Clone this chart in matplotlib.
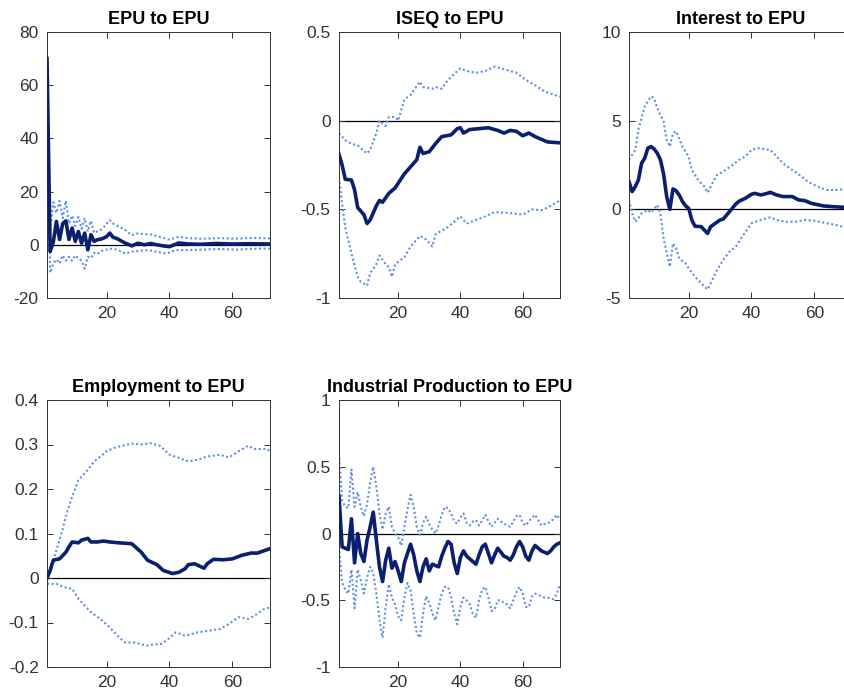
import numpy as np
import matplotlib.pyplot as plt
from matplotlib.ticker import FormatStrFormatter

plt.rcParams['font.family'] = ['Liberation Sans', 'DejaVu Sans']
plt.rcParams['axes.unicode_minus'] = False

# impulse responses to an EPU shock: median and error bands
titles = ["EPU to EPU", "ISEQ to EPU", "Interest to EPU",
          "Employment to EPU", "Industrial Production to EPU"]

# EPU to EPU
h_epu_mid = [1, 2, 3, 4, 5, 6, 7, 8, 9, 10, 11, 12, 13, 14, 15, 16, 17, 18, 19, 20, 21, 22, 23, 24,
             25, 26, 27, 28, 30, 32, 34, 36, 38, 40, 43, 46, 50, 55, 60, 65, 72]
epu_mid = [70, -2.5, 1, 8.8, 2, 8, 9, 2, 6.3, 1.3, 5, 0.6, 4.4, -1.9, 3.8, 1.3, 1.9, 2.1, 2.5, 3.1,
           4.4, 2.8, 2.5, 1.9, 1.2, 0.6, 0.1, -0.4, 0.6, 0, 0.5, 0, -0.4, -0.7, 0.7, 0.3, 0.2, 0.5,
           0.3, 0.4, 0.3]
h_epu_up = [1, 2, 3, 4, 5, 6, 7, 8, 9, 10, 11, 12, 13, 14, 15, 16, 17, 18, 19, 20, 21, 22, 23, 24,
            26, 28, 30, 32, 34, 36, 38, 40, 43, 46, 50, 56, 62, 66, 72]
epu_up = [70, 5, 16, 12, 16.5, 10, 16.5, 8, 11, 7, 10.5, 6, 10, 5, 9, 4.5, 5, 5.5, 6.5, 8, 9.3, 8,
          7.4, 6.8, 5.5, 3.6, 4.3, 4, 3.9, 3.2, 2.6, 2, 3, 2.5, 2.3, 2.5, 2.3, 2.6, 2.4]
h_epu_lo = [1, 2, 3, 4, 5, 6, 7, 8, 9, 10, 11, 12, 13, 14, 15, 16, 17, 18, 19, 20, 22, 24, 26, 28,
            30, 32, 34, 36, 39, 42, 45, 50, 56, 62, 66, 72]
epu_lo = [68, -10.5, -7, -5.5, -7, -4, -6, -4.5, -6, -4, -5, -6, -9, -4.5, -5, -3, -3.5, -2.5, -2,
          -1.8, -1.4, -2.2, -3.3, -2.6, -2.3, -2, -2.2, -2.6, -3.3, -2, -2, -1.8, -1.6, -1.8, -1.5,
          -1.4]

# ISEQ to EPU
h_iseq_mid = [1, 2, 3, 5, 6, 7, 9, 10, 11, 13, 14, 15, 17, 19, 22, 24, 26, 27, 28, 30, 32, 34, 37,
              39, 40, 41, 43, 46, 49, 52, 54, 56, 58, 60, 62, 64, 68, 72]
iseq_mid = [-0.19, -0.25, -0.33, -0.335, -0.39, -0.49, -0.53, -0.58, -0.56, -0.48, -0.45, -0.46,
            -0.41, -0.38, -0.30, -0.26, -0.22, -0.15, -0.185, -0.175, -0.13, -0.09, -0.08, -0.045,
            -0.04, -0.07, -0.05, -0.045, -0.04, -0.055, -0.07, -0.055, -0.06, -0.085, -0.07, -0.09,
            -0.12, -0.125]
h_iseq_up = [1, 3, 5, 7, 10, 11, 13, 14, 16, 17, 19, 20, 22, 24, 27, 28, 31, 32, 34, 36, 40, 42, 45,
             48, 51, 55, 58, 61, 64, 67, 72]
iseq_up = [-0.07, -0.11, -0.13, -0.14, -0.185, -0.165, -0.07, 0, -0.03, 0.02, 0.02, 0, 0.12, 0.145,
           0.22, 0.19, 0.18, 0.19, 0.18, 0.23, 0.295, 0.28, 0.27, 0.28, 0.305, 0.285, 0.27, 0.23,
           0.2, 0.165, 0.135]
h_iseq_lo = [1, 2, 3, 5, 7, 8, 10, 11, 13, 14, 16, 17, 18, 19, 22, 24, 27, 29, 31, 32, 34, 36, 40,
             42, 45, 48, 51, 55, 58, 60, 63, 66, 68, 72]
iseq_lo = [-0.32, -0.47, -0.6, -0.75, -0.88, -0.91, -0.93, -0.86, -0.81, -0.76, -0.81, -0.825,
           -0.88, -0.81, -0.77, -0.71, -0.65, -0.67, -0.71, -0.64, -0.62, -0.6, -0.54, -0.58, -0.56,
           -0.54, -0.515, -0.52, -0.525, -0.53, -0.5, -0.505, -0.49, -0.45]

# Interest to EPU
h_int_mid = [1, 2, 3, 4, 5, 6, 7, 8, 9, 10, 11, 12, 13, 14, 15, 16, 17, 18, 19, 20, 21, 22, 24, 26,
             27, 28, 30, 31, 33, 35, 36, 38, 40, 41, 43, 45, 46, 48, 50, 53, 55, 57, 59, 63, 66,
             70, 72]
int_mid = [1.56, 1.0, 1.28, 1.66, 2.6, 2.88, 3.45, 3.54, 3.4, 3.17, 2.8, 2.0, 0.72, 0, 1.15, 1.05,
           0.8, 0.45, 0.2, 0.06, -0.6, -0.95, -0.98, -1.36, -0.98, -0.85, -0.6, -0.55, -0.13, 0.3,
           0.45, 0.62, 0.85, 0.9, 0.81, 0.9, 0.96, 0.81, 0.72, 0.72, 0.53, 0.49, 0.34, 0.19, 0.15,
           0.11, 0.1]
h_int_up = [1, 3, 4, 6, 8, 9, 10, 12, 13, 14, 15, 16, 18, 20, 21, 23, 25, 26, 27, 29, 31, 34, 36,
            38, 40, 42, 46, 48, 50, 53, 56, 58, 61, 64, 67, 70, 72]
int_up = [2.8, 3.35, 4.5, 5.8, 6.37, 6.27, 5.7, 4.96, 3.9, 3.54, 4.3, 4.4, 3.54, 2.98, 2.22, 1.66,
          1.28, 0.94, 1.28, 1.94, 2.13, 2.5, 2.79, 2.98, 3.35, 3.45, 3.35, 2.98, 2.6, 2.22, 1.85,
          1.56, 1.28, 1.09, 1.09, 1.15, 1.1]
h_int_lo = [1, 2, 3, 4, 5, 7, 8, 10, 11, 12, 14, 15, 16, 17, 19, 20, 22, 24, 26, 27, 29, 31, 33, 35,
            37, 40, 43, 46, 48, 51, 54, 57, 60, 64, 67, 70, 72]
int_lo = [0.53, -0.23, -0.7, -0.5, -0.23, -0.04, -0.19, 0.25, -0.23, -1.64, -3.24, -1.92, -2.2,
          -2.77, -3.05, -3.33, -3.8, -4.18, -4.52, -4.18, -3.43, -2.86, -2.39, -2.11, -1.55, -0.79,
          -0.6, -0.45, -0.6, -0.7, -0.7, -0.6, -0.64, -0.79, -0.89, -1.02, -1.05]

# Employment to EPU
h_emp_mid = [1, 2, 3, 5, 7, 8, 9, 11, 12, 14, 15, 17, 19, 21, 24, 28, 31, 33, 36, 38, 41, 43, 45,
             46, 48, 51, 52, 54, 57, 60, 63, 66, 68, 72]
emp_mid = [0, 0.017, 0.04, 0.043, 0.058, 0.07, 0.081, 0.079, 0.085, 0.089, 0.081, 0.081, 0.083,
           0.081, 0.079, 0.077, 0.058, 0.04, 0.03, 0.017, 0.01, 0.013, 0.021, 0.03, 0.032, 0.022,
           0.032, 0.042, 0.041, 0.043, 0.051, 0.056, 0.056, 0.066]
h_emp_up = [1, 3, 5, 7, 9, 11, 14, 16, 18, 20, 23, 25, 28, 31, 34, 37, 40, 43, 46, 49, 52, 56, 59,
            62, 65, 67, 71, 72]
emp_up = [0, 0.04, 0.085, 0.138, 0.183, 0.22, 0.243, 0.262, 0.273, 0.285, 0.294, 0.297, 0.302,
          0.3, 0.303, 0.297, 0.277, 0.27, 0.262, 0.266, 0.273, 0.277, 0.271, 0.285, 0.297, 0.29,
          0.29, 0.285]
h_emp_lo = [1, 4, 6, 9, 11, 15, 18, 21, 24, 26, 29, 31, 33, 35, 37, 39, 42, 45, 47, 49, 52, 56, 59,
            62, 65, 67, 70, 72]
emp_lo = [-0.013, -0.013, -0.02, -0.024, -0.047, -0.077, -0.092, -0.111, -0.134, -0.145, -0.145,
          -0.149, -0.152, -0.149, -0.149, -0.141, -0.122, -0.13, -0.126, -0.122, -0.119, -0.115,
          -0.103, -0.088, -0.092, -0.085, -0.07, -0.066]

# Industrial Production to EPU, one value per horizon 1..72
h_ip = list(range(1, 73))
ip_mid = [0.28, -0.10, -0.11, -0.12, 0.11, -0.22, 0.0, -0.15, -0.21, -0.05, 0.05, 0.16, -0.05,
          -0.25, -0.36, -0.20, -0.11, -0.26, -0.21, -0.28, -0.36, -0.22, -0.15, -0.08, -0.16,
          -0.28, -0.36, -0.25, -0.19, -0.28, -0.23, -0.24, -0.25, -0.17, -0.11, -0.06, -0.08,
          -0.22, -0.30, -0.18, -0.13, -0.17, -0.19, -0.21, -0.23, -0.16, -0.10, -0.08, -0.15,
          -0.22, -0.16, -0.11, -0.14, -0.17, -0.18, -0.20, -0.16, -0.10, -0.06, -0.10, -0.17,
          -0.20, -0.13, -0.09, -0.11, -0.13, -0.14, -0.15, -0.13, -0.10, -0.08, -0.07]
ip_up = [0.60, 0.25, 0.20, 0.19, 0.48, 0.20, 0.31, 0.20, 0.13, 0.22, 0.38, 0.50, 0.35, 0.15, 0.03,
         0.15, 0.20, 0.05, 0.00, -0.03, -0.09, 0.05, 0.18, 0.29, 0.20, 0.05, -0.01, 0.08, 0.125,
         0.07, 0.03, 0.00, 0.06, 0.14, 0.20, 0.19, 0.15, 0.09, 0.075, 0.12, 0.15, 0.08, 0.06, 0.09,
         0.10, 0.06, 0.10, 0.14, 0.09, 0.05, 0.08, 0.11, 0.09, 0.075, 0.06, 0.05, 0.09, 0.13, 0.14,
         0.08, 0.06, 0.09, 0.12, 0.14, 0.10, 0.06, 0.07, 0.075, 0.09, 0.11, 0.14, 0.10]
ip_lo = [-0.10, -0.37, -0.42, -0.45, -0.27, -0.56, -0.27, -0.35, -0.45, -0.33, -0.25, -0.30,
         -0.45, -0.65, -0.78, -0.55, -0.38, -0.48, -0.53, -0.62, -0.65, -0.48, -0.37, -0.43,
         -0.60, -0.75, -0.78, -0.60, -0.47, -0.52, -0.60, -0.65, -0.55, -0.45, -0.40, -0.40,
         -0.48, -0.60, -0.68, -0.55, -0.48, -0.50, -0.53, -0.60, -0.63, -0.50, -0.42, -0.40,
         -0.48, -0.58, -0.57, -0.50, -0.50, -0.52, -0.53, -0.56, -0.50, -0.44, -0.40, -0.45,
         -0.55, -0.55, -0.47, -0.45, -0.46, -0.47, -0.48, -0.48, -0.49, -0.49, -0.45, -0.38]

panels = [
    (h_epu_mid, epu_mid, h_epu_up, epu_up, h_epu_lo, epu_lo, (-20, 80), np.arange(-20, 81, 20)),
    (h_iseq_mid, iseq_mid, h_iseq_up, iseq_up, h_iseq_lo, iseq_lo, (-1, 0.5), [-1, -0.5, 0, 0.5]),
    (h_int_mid, int_mid, h_int_up, int_up, h_int_lo, int_lo, (-5, 10), [-5, 0, 5, 10]),
    (h_emp_mid, emp_mid, h_emp_up, emp_up, h_emp_lo, emp_lo, (-0.2, 0.4), np.round(np.arange(-0.2, 0.41, 0.1), 1)),
    (h_ip, ip_mid, h_ip, ip_up, h_ip, ip_lo, (-1, 1), [-1, -0.5, 0, 0.5, 1]),
]

W, H = 845, 695
fig = plt.figure(figsize=(W / 100, H / 100), dpi=100)

# axes boxes in pixels: left, top, width, height
boxes = [(47, 32, 223, 266), (339, 32, 221, 266), (629, 32, 223, 266),
         (47, 400, 223, 267), (339, 400, 221, 267)]

mid_col = '#0a1f6e'
band_col = '#5f8fe8'
axis_col = '#333333'

for (hm, m, hu, u, hl, l, ylim, yt), (x0, y0, w, hh), title in zip(panels, boxes, titles):
    ax = fig.add_axes([x0 / W, 1 - (y0 + hh) / H, w / W, hh / H])
    ax.axhline(0, color='black', lw=0.9, zorder=1)
    ax.plot(hu, u, color=band_col, lw=1.5, linestyle=(0, (1, 1.2)), zorder=2)
    ax.plot(hl, l, color=band_col, lw=1.5, linestyle=(0, (1, 1.2)), zorder=2)
    ax.plot(hm, m, color=mid_col, lw=2.6, zorder=3)
    ax.set_xlim(1, 72)
    ax.set_ylim(*ylim)
    ax.set_xticks([20, 40, 60])
    ax.set_yticks(yt)
    ax.yaxis.set_major_formatter(FormatStrFormatter('%g'))
    ax.tick_params(direction='in', length=4, width=0.7, top=True, right=True,
                   labelsize=12.5, colors=axis_col, pad=6)
    for s in ax.spines.values():
        s.set_color(axis_col)
        s.set_linewidth(0.7)
    ax.set_title(title, fontsize=13, fontweight='bold', pad=6)

fig.savefig('out.png', dpi=100)
